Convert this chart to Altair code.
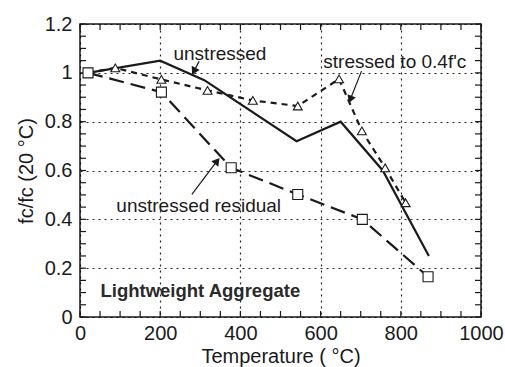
import altair as alt
import pandas as pd
import math

# ---- data ----
unstressed_T = [20, 200, 310, 540, 650, 755, 870]
unstressed_v = [1.0, 1.05, 0.97, 0.72, 0.80, 0.60, 0.25]

stressed_T = [20, 88, 203, 318, 431, 543, 646, 703, 761, 812]
stressed_v = [1.0, 1.02, 0.973, 0.928, 0.887, 0.864, 0.975, 0.762, 0.611, 0.468]

residual_T = [20, 203, 377, 543, 704, 868]
residual_v = [1.0, 0.921, 0.611, 0.502, 0.40, 0.165]

x_major = [0, 200, 400, 600, 800, 1000]
y_major = [0, 0.2, 0.4, 0.6, 0.8, 1.0, 1.2]
x_minor = list(range(0, 1001, 50))
y_minor = [round(i * 0.05, 2) for i in range(0, 25)]

ann_text = ["unstressed", "stressed to 0.4f'c", "unstressed residual"]
ann_tx = [349, 785, 296]
ann_ty = [1.076, 1.043, 0.453]
arrow_from_T = [297, 702, 279]
arrow_from_v = [1.047, 1.007, 0.502]
arrow_to_T = [284, 674, 342]
arrow_to_v = [1.006, 0.891, 0.639]

label_text = ["Lightweight Aggregate"]
label_T = [300]
label_v = [0.105]

W, H = 401, 293
FONT = "Liberation Sans"
INK = "#1a1a1a"

xs = alt.Scale(domain=[0, 1000], nice=False)
ys = alt.Scale(domain=[0, 1.2], nice=False)

def series(T, v):
    return pd.DataFrame({"T": T, "v": v})

axis_x = alt.Axis(values=x_major, grid=True, gridDash=[2, 4], gridColor="#000",
                  gridWidth=1.2, gridOpacity=0.85, ticks=False, domain=False,
                  format="d",
                  labelFont=FONT, labelFontSize=20, labelColor=INK, labelPadding=6,
                  title="Temperature ( °C)", titleFont=FONT, titleFontSize=20,
                  titleFontWeight="normal", titleColor=INK, titlePadding=3,
                  labelFlush=False)
axis_y = alt.Axis(values=y_major, grid=True, gridDash=[2, 4], gridColor="#000",
                  gridWidth=1.2, gridOpacity=0.85, ticks=False, domain=False,
                  labelFont=FONT, labelFontSize=20, labelColor=INK, labelPadding=8,
                  title="fc/fc (20 °C)", titleFont=FONT, titleFontSize=20,
                  titleFontWeight="normal", titleColor=INK, titlePadding=8,
                  labelExpr="datum.value == 0 ? '0' : (datum.value == 1 ? '1' : format(datum.value, '.1f'))",
                  labelFlush=False)

base = alt.Chart(series(unstressed_T, unstressed_v)).mark_point(opacity=0).encode(
    x=alt.X("T:Q", scale=xs, axis=axis_x),
    y=alt.Y("v:Q", scale=ys, axis=axis_y),
)

# inward ticks
xt = pd.DataFrame({"t": x_minor})
yt = pd.DataFrame({"t": y_minor})

def xticks(y0, y1):
    return alt.Chart(xt).mark_rule(color=INK, strokeWidth=1.2).encode(
        x=alt.X("t:Q", scale=xs), y=alt.value(y0), y2=alt.value(y1))

def yticks(x0, x1):
    return alt.Chart(yt).mark_rule(color=INK, strokeWidth=1.2).encode(
        y=alt.Y("t:Q", scale=ys), x=alt.value(x0), x2=alt.value(x1))

ticks = [xticks(H, H - 6), xticks(0, 6), yticks(0, 6), yticks(W, W - 6)]

line_unstressed = alt.Chart(series(unstressed_T, unstressed_v)).mark_line(
    color=INK, strokeWidth=2.2).encode(x=alt.X("T:Q", scale=xs), y=alt.Y("v:Q", scale=ys))

line_stressed = alt.Chart(series(stressed_T, stressed_v)).mark_line(
    color=INK, strokeWidth=2.2, strokeDash=[6, 5]).encode(
    x=alt.X("T:Q", scale=xs), y=alt.Y("v:Q", scale=ys))
pts_stressed = alt.Chart(series(stressed_T[1:], stressed_v[1:])).mark_point(
    shape="triangle-up", size=80, filled=False, fill="white", fillOpacity=1,
    color=INK, strokeWidth=1.1, opacity=1).encode(
    x=alt.X("T:Q", scale=xs), y=alt.Y("v:Q", scale=ys))

line_residual = alt.Chart(series(residual_T, residual_v)).mark_line(
    color=INK, strokeWidth=2.2, strokeDash=[15, 7]).encode(
    x=alt.X("T:Q", scale=xs), y=alt.Y("v:Q", scale=ys))
pts_residual = alt.Chart(series(residual_T, residual_v)).mark_point(
    shape="square", size=100, filled=False, fill="white", fillOpacity=1,
    color=INK, strokeWidth=1.1, opacity=1).encode(
    x=alt.X("T:Q", scale=xs), y=alt.Y("v:Q", scale=ys))

# annotations
px_per_T = W / 1000.0
px_per_v = H / 1.2
angles = []
for a, b, c, d in zip(arrow_from_T, arrow_from_v, arrow_to_T, arrow_to_v):
    dx = (c - a) * px_per_T
    dy = -(d - b) * px_per_v
    angles.append(math.degrees(math.atan2(dx, -dy)) % 360)

arr = pd.DataFrame({"T": arrow_from_T, "v": arrow_from_v,
                    "T2": arrow_to_T, "v2": arrow_to_v, "ang": angles})
arrow_lines = alt.Chart(arr).mark_rule(color=INK, strokeWidth=1.2).encode(
    x=alt.X("T:Q", scale=xs), y=alt.Y("v:Q", scale=ys), x2="T2:Q", y2="v2:Q")
arrow_heads = alt.Chart(arr).mark_point(shape="triangle-up", filled=True, size=80,
                                         color=INK, opacity=1).encode(
    x=alt.X("T2:Q", scale=xs), y=alt.Y("v2:Q", scale=ys),
    angle=alt.Angle("ang:Q", scale=None))

ann = pd.DataFrame({"T": ann_tx, "v": ann_ty, "text": ann_text})
ann_marks = alt.Chart(ann).mark_text(font=FONT, fontSize=19, color=INK,
                                     align="center", baseline="middle").encode(
    x=alt.X("T:Q", scale=xs), y=alt.Y("v:Q", scale=ys), text="text:N")

lab = pd.DataFrame({"T": label_T, "v": label_v, "text": label_text})
lab_marks = alt.Chart(lab).mark_text(font=FONT, fontSize=18.5, fontWeight="bold",
                                     color="#2a2a2a", align="center",
                                     baseline="middle").encode(
    x=alt.X("T:Q", scale=xs), y=alt.Y("v:Q", scale=ys), text="text:N")

chart = alt.layer(base, *ticks, line_residual, line_stressed, line_unstressed,
                  pts_residual, pts_stressed, arrow_lines, arrow_heads,
                  ann_marks, lab_marks).properties(
    width=W, height=H,
    autosize=alt.AutoSizeParams(type="none"),
    padding={"left": 80, "top": 24, "right": 24, "bottom": 50},
    background="white",
).configure_view(stroke=INK, strokeWidth=1.5)

chart.save("out.html", embed_options={"renderer": "svg", "actions": False})
